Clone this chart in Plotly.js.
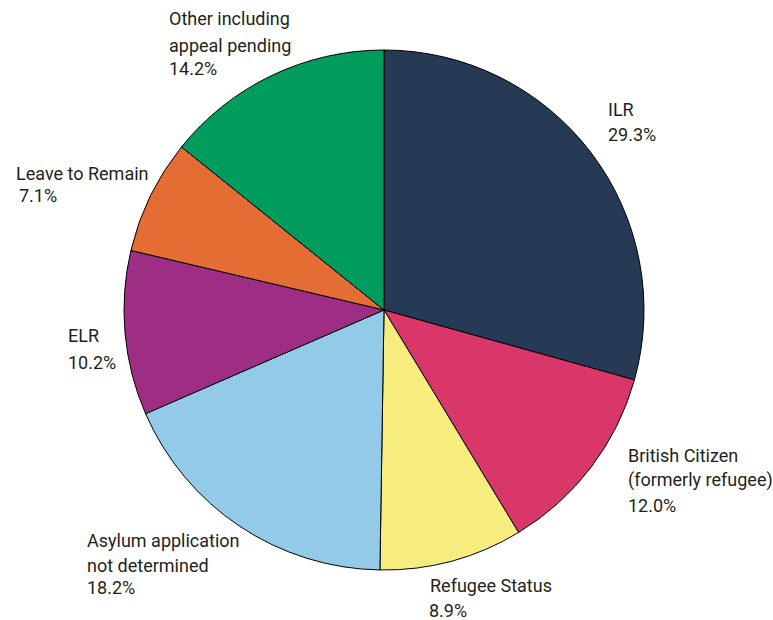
<!DOCTYPE html>
<html>
<head>
<meta charset="utf-8">
<script src="https://cdn.plot.ly/plotly-3.0.1.min.js"></script>
<style>html,body{margin:0;padding:0;background:#fff;}#chart{width:773px;height:620px;}</style>
</head>
<body>
<div id="chart"></div>
<script>
// ---- data ----
const categories = ['ILR', 'British Citizen (formerly refugee)', 'Refugee Status', 'Asylum application not determined', 'ELR', 'Leave to Remain', 'Other including appeal pending'];
const labelLines = [['ILR'], ['British Citizen', '(formerly refugee)'], ['Refugee Status'], ['Asylum application', 'not determined'], ['ELR'], ['Leave to Remain'], ['Other including', 'appeal pending']];
const values = [29.3, 12.0, 8.9, 18.2, 10.2, 7.1, 14.2];
const colors = ['#263A55', '#D9366A', '#F7EC7E', '#92CAE8', '#9E2E84', '#E46D34', '#009C5E'];

// ---- label layout (pixel positions of each text line: left x, line-centre y) ----
const labelX = [606, 626, 428, 85, 66, 14, 167];
const labelY = [[109, 134], [455, 480, 505], [585, 610], [540, 565, 587], [335, 362], [173, 195], [19, 45, 69]];

const W = 773, H = 620;
const M = {l: 124, r: 129, t: 50, b: 50};
const pw = W - M.l - M.r, ph = H - M.t - M.b;
const toPx = x => (x - M.l) / pw;
const toPy = y => 1 - (y - M.t) / ph;

const annotations = [];
categories.forEach((c, i) => {
  const lines = labelLines[i].concat([values[i].toFixed(1) + '%']);
  lines.forEach((t, j) => {
    const ann = {
      xref: 'paper', yref: 'paper',
      x: toPx(labelX[i] + (j === lines.length - 1 && i === 5 ? 3 : 0)),
      y: toPy(labelY[i][j]),
      xanchor: 'left', yanchor: 'middle',
      text: t, showarrow: false,
      font: {family: 'Roboto, sans-serif', size: 18, color: '#231F20'}
    };
    if (labelY[i][j] > 600) { ann.height = 18; ann.valign = 'middle'; ann.borderpad = 0; }
    annotations.push(ann);
  });
});

Plotly.newPlot('chart', [{
  type: 'pie',
  labels: categories,
  values: values,
  sort: false,
  direction: 'clockwise',
  rotation: 0,
  marker: {colors: colors, line: {color: '#000000', width: 1}},
  textinfo: 'none',
  hoverinfo: 'skip',
  showlegend: false
}], {
  width: W, height: H,
  margin: M,
  paper_bgcolor: '#ffffff',
  plot_bgcolor: '#ffffff',
  showlegend: false,
  annotations: annotations
}, {staticPlot: true});
</script>
</body>
</html>
